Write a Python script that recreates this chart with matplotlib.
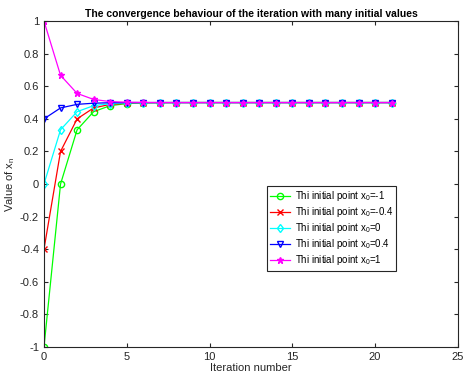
import matplotlib
matplotlib.use('Agg')
import matplotlib.pyplot as plt

# -----------------------------
# Dados
# -----------------------------
iters = list(range(22))
x_m1 = [-1, 0, 0.333, 0.444, 0.481, 0.494, 0.498, 0.499] + [0.5] * 14
x_m04 = [-0.4, 0.2, 0.4, 0.467, 0.489, 0.496, 0.499] + [0.5] * 15
x_0 = [0, 0.333, 0.444, 0.481, 0.494, 0.498, 0.499] + [0.5] * 15
x_04 = [0.4, 0.467, 0.489, 0.496, 0.499] + [0.5] * 17
x_1 = [1, 0.667, 0.556, 0.519, 0.506, 0.502, 0.501] + [0.5] * 15

labels = ['Thi initial point x$_0$=-1', 'Thi initial point x$_0$=-0.4',
          'Thi initial point x$_0$=0', 'Thi initial point x$_0$=0.4',
          'Thi initial point x$_0$=1']

plt.rcParams['font.family'] = ['Liberation Sans', 'DejaVu Sans']
plt.rcParams['mathtext.fontset'] = 'custom'
plt.rcParams['mathtext.rm'] = 'Liberation Sans'
plt.rcParams['mathtext.it'] = 'Liberation Sans'

fig = plt.figure(figsize=(4.63, 3.76), dpi=100)
ax = fig.add_axes([0.095, 0.077, 0.894, 0.867])

estilos = [
    (x_m1, '#00ff00', 'o', 'none'),
    (x_m04, '#ff0000', 'x', '#ff0000'),
    (x_0, '#00ffff', 'd', 'none'),
    (x_04, '#0000ff', 'v', 'none'),
    (x_1, '#ff00ff', '*', '#ff00ff'),
]
for (y, cor, mk, fc), lab in zip(estilos, labels):
    ax.plot(iters, y, '-', color=cor, marker=mk, markerfacecolor=fc,
            markeredgecolor=cor, markersize=4.5, linewidth=0.9, label=lab)

ax.set_xlim(0, 25)
ax.set_ylim(-1, 1)
ax.set_xticks(range(0, 26, 5))
ax.set_yticks([-1, -0.8, -0.6, -0.4, -0.2, 0, 0.2, 0.4, 0.6, 0.8, 1])
ax.set_yticklabels(['-1', '-0.8', '-0.6', '-0.4', '-0.2', '0', '0.2', '0.4', '0.6', '0.8', '1'])
ax.tick_params(direction='in', top=True, right=True, labelsize=8, colors='#262626', length=3)
for s in ax.spines.values():
    s.set_color('#262626')
ax.set_xlabel('Iteration number', fontsize=8, color='#262626', labelpad=1)
ax.set_ylabel('Value of x$_n$', fontsize=8, color='#262626', labelpad=2)
ax.set_title('The convergence behaviour of the iteration with many initial values',
             fontsize=7.5, fontweight='bold', pad=3)

leg = ax.legend(loc='upper left', bbox_to_anchor=(0.539, 0.494), fontsize=7,
                fancybox=False, edgecolor='#262626', framealpha=1, borderaxespad=0,
                handlelength=2.0, borderpad=0.35, labelspacing=0.2, handletextpad=0.5)
leg.get_frame().set_linewidth(0.8)

fig.savefig('out.png', dpi=100)
